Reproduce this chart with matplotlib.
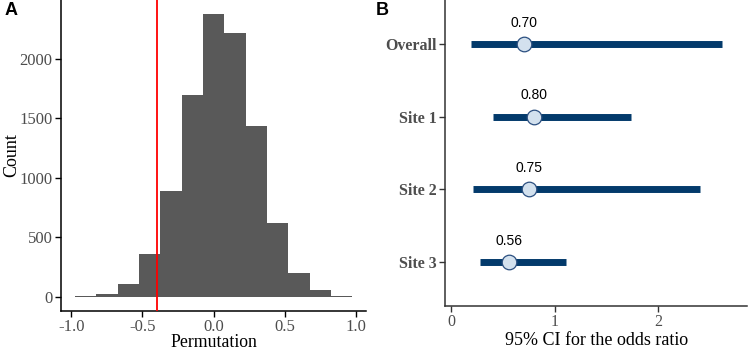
import matplotlib
matplotlib.use("Agg")
import matplotlib.pyplot as plt
import numpy as np

# --- dados ---
bin_centers = [-0.9, -0.75, -0.6, -0.45, -0.3, -0.15, 0.0, 0.15, 0.3, 0.45, 0.6, 0.75, 0.9]
counts = [8, 20, 104, 362, 892, 1691, 2373, 2213, 1431, 623, 202, 56, 8]
observed = -0.40

sites = ["Overall", "Site 1", "Site 2", "Site 3"]
odds = [0.70, 0.80, 0.75, 0.56]
ci_low = [0.19, 0.40, 0.21, 0.28]
ci_high = [2.61, 1.73, 2.40, 1.11]

serif = ["Liberation Serif", "DejaVu Serif"]
sans = ["Liberation Sans", "DejaVu Sans"]
gray30 = "#4d4d4d"
navy = "#033a6b"

fig = plt.figure(figsize=(7.48, 3.51), dpi=100)

# ==================== Painel A: histograma ====================
axA = fig.add_axes([0.0816, 0.114, 0.408, 0.886])
axA.bar(bin_centers, counts, width=0.15, color="#595959", edgecolor="none", zorder=2)
axA.axvline(observed, color="red", lw=1.3, zorder=3)
axA.set_xlim(-1.0725, 1.0725)
axA.set_ylim(-119, 2492)
axA.set_xticks([-1.0, -0.5, 0.0, 0.5, 1.0])
axA.set_xticklabels(["-1.0", "-0.5", "0.0", "0.5", "1.0"])
axA.set_yticks([0, 500, 1000, 1500, 2000])
axA.set_xlabel("Permutation", family=serif, fontsize=12.8)
axA.set_ylabel("Count", family=serif, fontsize=13)
axA.xaxis.set_label_coords(0.5, -0.074)
axA.yaxis.set_label_coords(-0.135, 0.5)

# ==================== Painel B: forest plot ====================
axB = fig.add_axes([0.595, 0.128, 0.404, 0.872])
ypos = np.arange(len(sites))[::-1] + 1
axB.hlines(ypos, ci_low, ci_high, color=navy, lw=5, zorder=2)
axB.plot(odds, ypos, "o", ms=10.5, mfc="#d3e1ee", mec="#2b4f80", mew=0.9, zorder=3)
for x, y in zip(odds, ypos):
    axB.text(x, y + 0.29, f"{x:.2f}", ha="center", va="center",
             family=sans, fontsize=10, color="black")
axB.set_xlim(-0.061, 2.857)
axB.set_ylim(0.4, 4.6)
axB.set_xticks([0, 1, 2])
axB.set_yticks(ypos)
axB.set_yticklabels(sites, fontweight="bold")
axB.set_xlabel("95% CI for the odds ratio", family=serif, fontsize=13)
axB.xaxis.set_label_coords(0.5, -0.086)

for ax, spcol, lsize in [(axA, "black", 12), (axB, "#333333", 11.5)]:
    for s in ["top", "right"]:
        ax.spines[s].set_visible(False)
    for s in ["left", "bottom"]:
        ax.spines[s].set_color(spcol)
        ax.spines[s].set_linewidth(1.1)
    ax.tick_params(direction="out", length=4, width=1, color=spcol,
                   labelsize=lsize, labelcolor=gray30, pad=2)
    for lab in ax.get_xticklabels() + ax.get_yticklabels():
        lab.set_family(serif)

fig.text(0.006, 0.995, "A", family=sans, fontweight="bold", fontsize=13, va="top", ha="left")
fig.text(0.503, 0.995, "B", family=sans, fontweight="bold", fontsize=13, va="top", ha="left")

fig.savefig("out.png", dpi=100)
